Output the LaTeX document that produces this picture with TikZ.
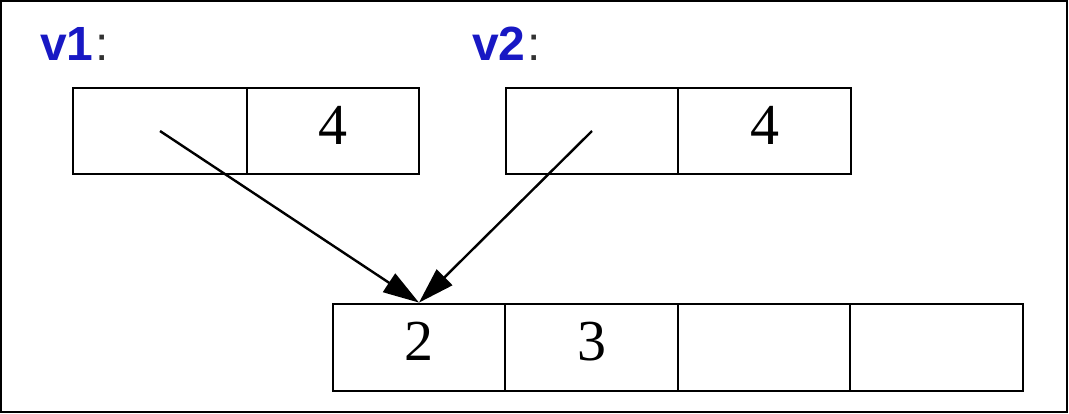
\documentclass[tikz,border=0pt]{standalone}
\usepackage{fontspec}
\setmainfont{Liberation Serif}
\newfontfamily\labelfont{Liberation Sans}
\usetikzlibrary{arrows.meta}
\definecolor{varblue}{RGB}{24,24,196}
\definecolor{colongray}{RGB}{50,50,50}
\begin{document}
\begin{tikzpicture}[x=1pt,y=-1pt,
  cell/.style={draw=black,line width=2.8pt,minimum height=86pt,inner sep=0pt,
    font=\fontsize{58}{60}\selectfont,text height=39pt,text depth=13pt},
  varlabel/.style={anchor=base west,inner sep=0pt,font=\labelfont\fontsize{48}{50}\selectfont},
  ptr/.style={line width=2.4pt,-{Triangle[length=36pt,width=22pt]}}]
\useasboundingbox (0,0) rectangle (1069,413);
\draw[line width=2.4pt] (1,1) rectangle (1067,412);
% labels
\node[varlabel] (l1) at (40,60) {\textcolor{varblue}{\bfseries v1}\kern2pt\textcolor{colongray}{:}};
\node[varlabel] (l2) at (472,60) {\textcolor{varblue}{\bfseries v2}\kern2pt\textcolor{colongray}{:}};
% v1
\node[cell,minimum width=174pt] (v1a) at (160,131) {};
\node[cell,minimum width=172pt] (v1b) at (333,131) {4};
% v2
\node[cell,minimum width=172pt] (v2a) at (592,131) {};
\node[cell,minimum width=173pt] (v2b) at (764.5,131) {4};
% array
\node[cell,minimum width=172pt,minimum height=87pt] (b1) at (419,347.5) {2};
\node[cell,minimum width=173pt,minimum height=87pt] (b2) at (591.5,347.5) {3};
\node[cell,minimum width=172pt,minimum height=87pt] (b3) at (764,347.5) {};
\node[cell,minimum width=173pt,minimum height=87pt] (b4) at (936.5,347.5) {};
% pointers
\draw[ptr] (v1a.center) -- (b1.north);
\draw[ptr] (v2a.center) -- (b1.north);
\end{tikzpicture}
\end{document}
